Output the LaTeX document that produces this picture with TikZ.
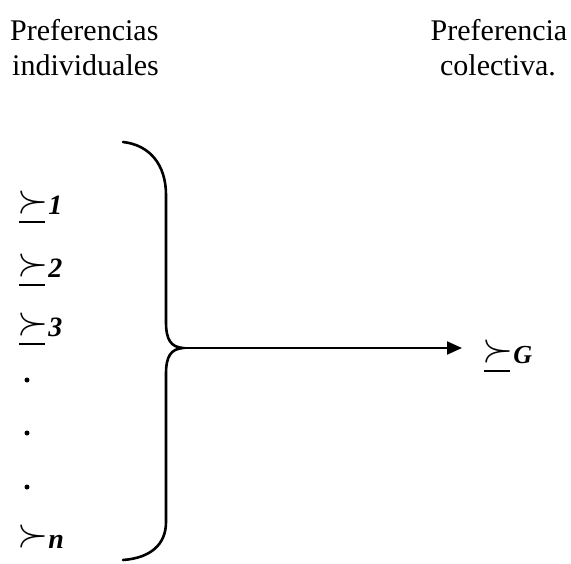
\documentclass[tikz,border=0pt]{standalone}
\usepackage{fix-cm}
\usepackage{fontspec}
\setmainfont{Liberation Serif}
\usetikzlibrary{arrows.meta}
\newcommand{\succglyph}{\raisebox{1.5pt}{\fontsize{40}{42}\selectfont$\succ$}}
\newcommand{\prefsym}{\makebox[0pt][l]{\kern2pt\rule[-9pt]{26pt}{2pt}}\succglyph}
\newcommand{\prefnoline}{\succglyph}
\begin{document}
\begin{tikzpicture}[x=1pt,y=-1pt,
  head/.style={inner sep=0pt,font=\fontsize{30}{34}\selectfont},
  pref/.style={inner sep=0pt,anchor=base west,font=\fontsize{28}{30}\selectfont\bfseries\itshape},
  brace/.style={line width=2.6pt,line cap=round},
  conn/.style={line width=2.2pt,-{Triangle[length=15pt,width=13pt]}},
  dotmark/.style={circle,fill=black,inner sep=0pt,minimum size=5pt}]
\useasboundingbox (0,0) rectangle (571,563);
% headings
\node[head,anchor=base west] (h1) at (10,40) {Preferencias};
\node[head,anchor=base west] (h2) at (12,75) {individuales};
\node[head,anchor=base] (h3) at (499,40) {Preferencia};
\node[head,anchor=base] (h4) at (498,75) {colectiva.};
% individual preferences
\node[pref] (p1) at (17,214) {\prefsym\kern0pt 1};
\node[pref] (p2) at (17,277) {\prefsym\kern0pt 2};
\node[pref] (p3) at (17,336) {\prefsym\kern0pt 3};
\node[dotmark] (d1) at (27,380) {};
\node[dotmark] (d2) at (27,433) {};
\node[dotmark] (d3) at (27,487) {};
\node[pref] (pn) at (17,548) {\prefnoline\kern0pt n};
% brace
\coordinate (top) at (123,142);
\coordinate (tip) at (183,348);
\coordinate (bot) at (123,560);
\draw[brace] (top) .. controls (150,145) and (166,165) .. (166,195)
  -- (166,322) .. controls (166,340) and (171,347) .. (tip)
  .. controls (171,349) and (166,356) .. (166,374)
  -- (166,522) .. controls (166,545) and (150,558) .. (bot);
% collective
\node[pref,font=\fontsize{26}{28}\selectfont\bfseries\itshape] (g) at (482,363) {\prefsym\kern0pt G};
\draw[conn] (tip) -- ([xshift=-20pt]g.west |- tip);
\end{tikzpicture}
\end{document}
